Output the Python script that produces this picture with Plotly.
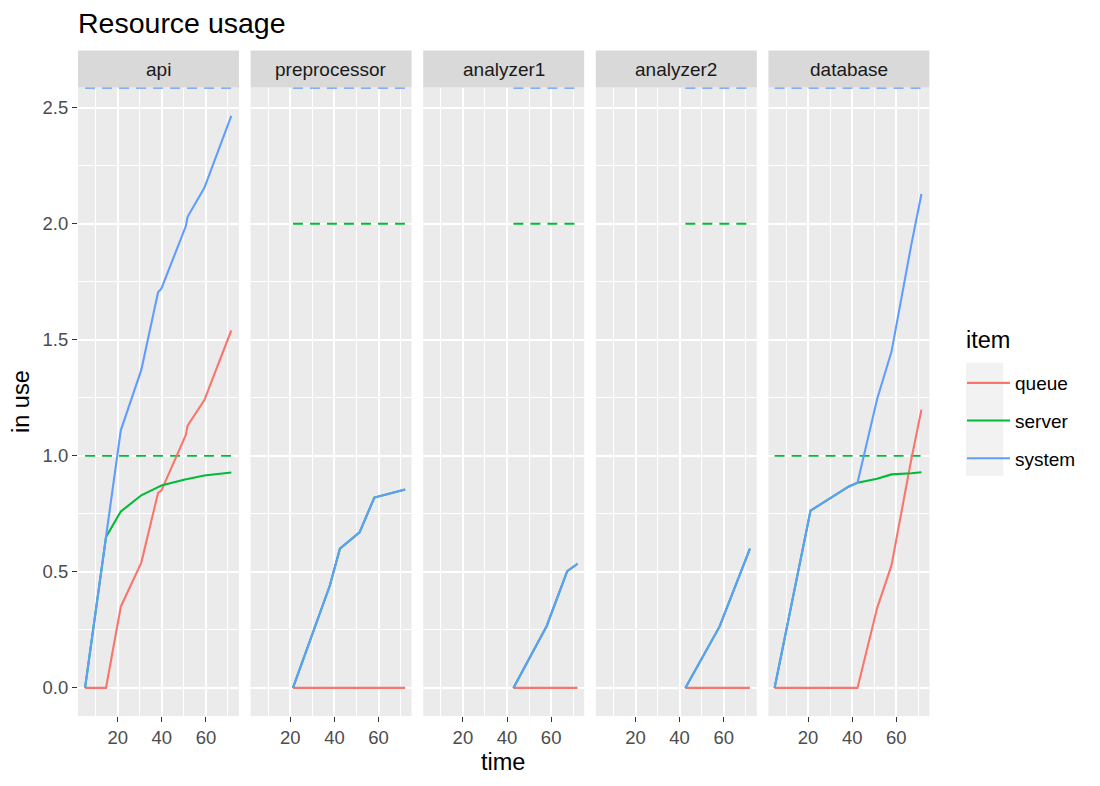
import plotly.graph_objects as go

# panels (facets) in display order
panels = ["api", "preprocessor", "analyzer1", "analyzer2", "database"]

# time points per panel
api_time = [5.2, 14.7, 21.4, 30.7, 38.3, 39.8, 50.9, 51.7, 59.3, 71.5]
pre_time = [21.2, 37.9, 42.5, 51.4, 58.1, 72.1]
an1_time = [42.9, 58.0, 67.3, 72.0]
an2_time = [42.6, 58.1, 71.9]
db_time = [4.8, 21.1, 38.5, 42.4, 51.3, 57.8, 66.8, 71.4]

# queue usage
api_queue = [0, 0, 0.35, 0.54, 0.84, 0.85, 1.09, 1.13, 1.24, 1.54]
pre_queue = [0, 0, 0, 0, 0, 0]
an1_queue = [0, 0, 0, 0]
an2_queue = [0, 0, 0]
db_queue = [0, 0, 0, 0, 0.344, 0.528, 0.985, 1.199]

# server usage
api_server = [0, 0.65, 0.76, 0.83, 0.865, 0.872, 0.899, 0.90, 0.915, 0.928]
pre_server = [0, 0.44, 0.60, 0.67, 0.82, 0.855]
an1_server = [0, 0.267, 0.503, 0.535]
an2_server = [0, 0.264, 0.60]
db_server = [0, 0.764, 0.868, 0.884, 0.901, 0.920, 0.925, 0.929]

# system usage
api_system = [0, 0.65, 1.11, 1.37, 1.705, 1.72, 1.99, 2.03, 2.155, 2.465]
pre_system = [0, 0.44, 0.60, 0.67, 0.82, 0.855]
an1_system = [0, 0.267, 0.503, 0.535]
an2_system = [0, 0.264, 0.60]
db_system = [0, 0.764, 0.868, 0.884, 1.245, 1.448, 1.91, 2.128]

# capacity lines (dashed)
server_cap = [1, 2, 2, 2, 1]
system_cap = [2.585, 2.585, 2.585, 2.585, 2.585]

times = [api_time, pre_time, an1_time, an2_time, db_time]
queues = [api_queue, pre_queue, an1_queue, an2_queue, db_queue]
servers = [api_server, pre_server, an1_server, an2_server, db_server]
systems = [api_system, pre_system, an1_system, an2_system, db_system]

colors = {"queue": "#F8766D", "server": "#00BA38", "system": "#619CFF"}
FONT = "Liberation Sans, Arial, sans-serif"

# the page body has an 8px margin, so work in window pixels and shift
OFF = 8
W, H = 1100 - OFF, 786 - OFF


def px(x):
    return (x - OFF) / W


def py(y):
    return 1 - (y - OFF) / H


panel_left = [78, 250.6, 423.2, 595.8, 768.4]
panel_w = 161
panel_top, panel_bot = 87.5, 716
strip_top = 50.5

fig = go.Figure()

for i, name in enumerate(panels):
    xa = "x" if i == 0 else "x%d" % (i + 1)
    ya = "y" if i == 0 else "y%d" % (i + 1)
    t = times[i]
    t_span = [t[0], t[-1]]
    # capacity
    fig.add_trace(go.Scatter(x=t_span, y=[server_cap[i]] * 2, mode="lines",
                             line=dict(color=colors["server"], width=1.8, dash="10px,7px"),
                             xaxis=xa, yaxis=ya, showlegend=False, hoverinfo="skip"))
    fig.add_trace(go.Scatter(x=t_span, y=[system_cap[i]] * 2, mode="lines",
                             line=dict(color=colors["system"], width=1.8, dash="10px,7px"),
                             xaxis=xa, yaxis=ya, showlegend=False, hoverinfo="skip"))
    for item, vals in [("queue", queues[i]), ("server", servers[i]), ("system", systems[i])]:
        fig.add_trace(go.Scatter(x=t, y=vals, mode="lines", name=item,
                                 line=dict(color=colors[item], width=2.1),
                                 xaxis=xa, yaxis=ya, legendgroup=item,
                                 showlegend=(i == 0)))

    dom_x = [px(panel_left[i]), px(panel_left[i] + panel_w)]
    dom_y = [py(panel_bot), py(panel_top)]
    fig.layout[xa.replace("x", "xaxis")] = dict(
        domain=dom_x, range=[2.0, 75.0], anchor=ya,
        tickvals=[20, 40, 60], ticks="outside", ticklen=5, tickwidth=1.3,
        tickcolor="#333333", tickfont=dict(size=18.5, color="#4D4D4D", family=FONT),
        showgrid=True, gridcolor="white", gridwidth=1.8, zeroline=False,
        showline=False,
        minor=dict(tickvals=[10, 30, 50, 70], showgrid=True, gridcolor="white",
                   gridwidth=0.9, ticks=""),
    )
    fig.layout[ya.replace("y", "yaxis")] = dict(
        domain=dom_y, range=[-0.121, 2.587], anchor=xa,
        tickvals=[0, 0.5, 1, 1.5, 2, 2.5],
        ticktext=["0.0", "0.5", "1.0", "1.5", "2.0", "2.5"],
        showticklabels=(i == 0), ticks="outside" if i == 0 else "",
        ticklen=5, tickwidth=1.3, tickcolor="#333333",
        tickfont=dict(size=18.5, color="#4D4D4D", family=FONT),
        showgrid=True, gridcolor="white", gridwidth=1.8, zeroline=False,
        showline=False,
        minor=dict(tickvals=[0.25, 0.75, 1.25, 1.75, 2.25], showgrid=True,
                   gridcolor="white", gridwidth=0.9, ticks=""),
    )
    # panel background and strip
    fig.add_shape(type="rect", xref="paper", yref="paper", layer="below",
                  x0=dom_x[0], x1=dom_x[1], y0=dom_y[0], y1=dom_y[1],
                  fillcolor="#EBEBEB", line_width=0)
    fig.add_shape(type="rect", xref="paper", yref="paper", layer="below",
                  x0=dom_x[0], x1=dom_x[1], y0=dom_y[1], y1=py(strip_top),
                  fillcolor="#D9D9D9", line_width=0)
    fig.add_annotation(x=(dom_x[0] + dom_x[1]) / 2, y=py(69), xref="paper", yref="paper",
                       xanchor="center", yanchor="middle", text=name, showarrow=False,
                       font=dict(size=19, color="#1A1A1A", family=FONT))

# legend key background
fig.add_shape(type="rect", xref="paper", yref="paper", layer="below",
              x0=px(966), x1=px(1003.3), y0=py(476), y1=py(362.7),
              fillcolor="#F2F2F2", line_width=0)

fig.add_annotation(x=px(76), y=py(23), xref="paper", yref="paper",
                   xanchor="left", yanchor="middle",
                   text="Resource usage", showarrow=False,
                   font=dict(size=28.5, color="black", family=FONT))
fig.add_annotation(x=px(21), y=py(402), xref="paper", yref="paper",
                   xanchor="center", yanchor="middle",
                   text="in use", textangle=-90, showarrow=False,
                   font=dict(size=23.5, color="black", family=FONT))
fig.add_annotation(x=px(503), y=py(762), xref="paper", yref="paper",
                   xanchor="center", yanchor="middle",
                   text="time", showarrow=False,
                   font=dict(size=23.5, color="black", family=FONT))
fig.add_annotation(x=px(964), y=py(340), xref="paper", yref="paper",
                   xanchor="left", yanchor="middle",
                   text="item", showarrow=False,
                   font=dict(size=23.5, color="black", family=FONT))

fig.update_layout(
    width=W, height=H, autosize=False,
    margin=dict(l=0, r=0, t=0, b=0),
    paper_bgcolor="white", plot_bgcolor="rgba(0,0,0,0)",
    font=dict(family=FONT),
    legend=dict(x=px(962), y=py(364), xanchor="left", yanchor="top",
                bgcolor="rgba(0,0,0,0)", itemwidth=43, tracegroupgap=10,
                font=dict(size=19, color="black", family=FONT)),
)

fig.write_html("out.html")
